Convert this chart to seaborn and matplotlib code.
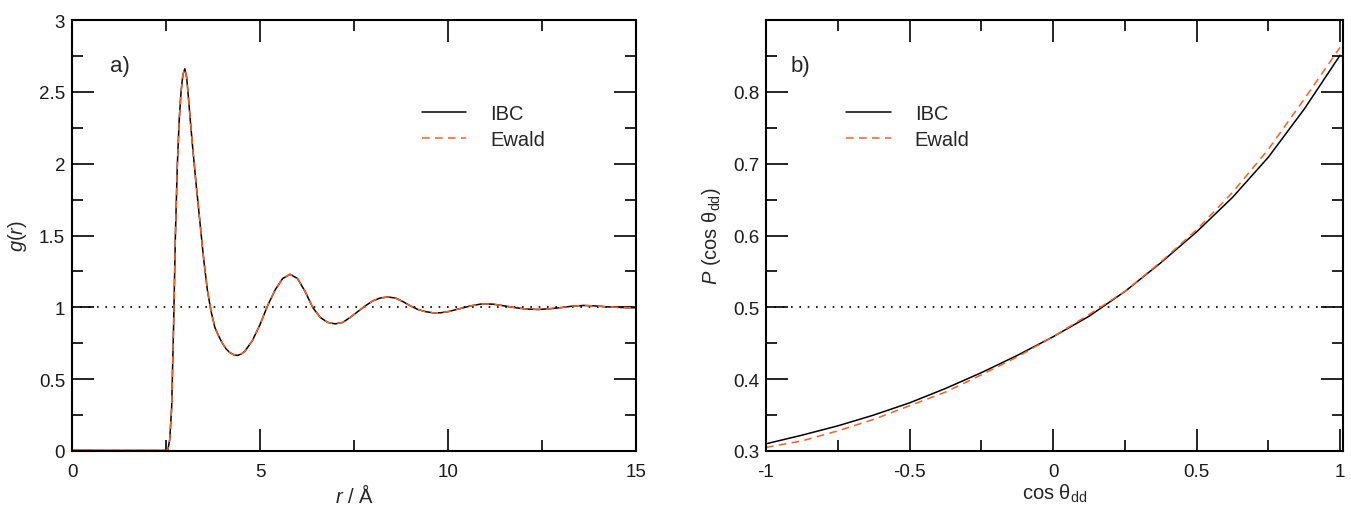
import numpy as np
import pandas as pd
import matplotlib
matplotlib.use('Agg')
import matplotlib.pyplot as plt
from matplotlib.ticker import MultipleLocator
import seaborn as sns

# panel a) radial distribution function g(r)
r_vals = [0.0, 1.0, 2.0, 2.5, 2.55, 2.6, 2.65, 2.7, 2.75, 2.8, 2.85, 2.9, 2.95,
          3.0, 3.05, 3.1, 3.15, 3.2, 3.3, 3.4, 3.5, 3.6, 3.7, 3.8, 3.9, 4.0,
          4.1, 4.2, 4.3, 4.4, 4.5, 4.6, 4.8, 5.0, 5.2, 5.4, 5.6, 5.8, 6.0,
          6.2, 6.4, 6.6, 6.8, 7.0, 7.2, 7.4, 7.6, 7.8, 8.0, 8.2, 8.4, 8.6,
          8.8, 9.0, 9.2, 9.4, 9.6, 9.8, 10.0, 10.3, 10.6, 10.9, 11.2, 11.5,
          11.8, 12.1, 12.4, 12.7, 13.0, 13.3, 13.6, 13.9, 14.2, 14.5, 14.8, 15.0]
g_ibc = [0.005, 0.004, 0.004, 0.004, 0.01, 0.08, 0.3, 0.85, 1.5, 1.98, 2.3, 2.5, 2.62,
         2.66, 2.6, 2.45, 2.29, 2.14, 1.86, 1.6, 1.34, 1.12, 0.97, 0.86, 0.8, 0.75,
         0.71, 0.685, 0.67, 0.665, 0.675, 0.695, 0.77, 0.88, 1.01, 1.12, 1.2, 1.23, 1.2,
         1.11, 1.0, 0.93, 0.895, 0.885, 0.895, 0.93, 0.97, 1.01, 1.045, 1.065, 1.072, 1.065,
         1.04, 1.01, 0.985, 0.97, 0.962, 0.962, 0.97, 0.99, 1.01, 1.024, 1.022, 1.01,
         0.997, 0.988, 0.985, 0.99, 0.998, 1.008, 1.013, 1.01, 1.004, 1.0, 0.997, 0.997]
g_ewald = list(g_ibc)  # curves overlap in the reference

# panel b) dipole orientation distribution P(cos theta_dd)
cos_vals = [-1.0, -0.875, -0.75, -0.625, -0.5, -0.375, -0.25, -0.125, 0.0,
            0.125, 0.25, 0.375, 0.5, 0.625, 0.75, 0.875, 1.0]
p_ibc = [0.310, 0.322, 0.335, 0.350, 0.367, 0.387, 0.409, 0.433, 0.459,
         0.4875, 0.522, 0.562, 0.605, 0.653, 0.709, 0.776, 0.851]
p_ewald = [0.305, 0.314, 0.328, 0.344, 0.363, 0.382, 0.406, 0.431, 0.459,
           0.490, 0.522, 0.563, 0.608, 0.660, 0.720, 0.790, 0.862]

sns.set_theme(style='ticks')
plt.rcParams['font.family'] = ['Liberation Sans', 'DejaVu Sans']
plt.rcParams['mathtext.fontset'] = 'custom'
plt.rcParams['mathtext.rm'] = 'Liberation Sans'
plt.rcParams['mathtext.it'] = 'Liberation Sans:italic'

orange = '#FF5F1F'
dash = (0, (5, 3.5))

fig = plt.figure(figsize=(13.51, 5.10), dpi=100)
ax1 = fig.add_axes([72 / 1351, 1 - 452 / 510, 564 / 1351, 431 / 510])
ax2 = fig.add_axes([766 / 1351, 1 - 452 / 510, 577 / 1351, 431 / 510])

df_g = pd.DataFrame({'r': r_vals, 'IBC': g_ibc, 'Ewald': g_ewald})
df_p = pd.DataFrame({'c': cos_vals, 'IBC': p_ibc, 'Ewald': p_ewald})

sns.lineplot(data=df_g, x='r', y='IBC', ax=ax1, color='black', lw=1.1,
             estimator=None, label='IBC')
sns.lineplot(data=df_g, x='r', y='Ewald', ax=ax1, color=orange, lw=1.1,
             linestyle=dash, estimator=None, label='Ewald')
sns.lineplot(data=df_p, x='c', y='IBC', ax=ax2, color='black', lw=1.1,
             estimator=None, label='IBC')
sns.lineplot(data=df_p, x='c', y='Ewald', ax=ax2, color=orange, lw=1.1,
             linestyle=dash, estimator=None, label='Ewald')

ax1.axhline(1.0, color='black', lw=1.2, linestyle=(0, (1, 4)), zorder=0)
ax2.axhline(0.5, color='black', lw=1.2, linestyle=(0, (1, 4)), zorder=0)

ax1.set_xlim(0, 15)
ax1.set_ylim(0, 3)
ax1.xaxis.set_minor_locator(MultipleLocator(2.5))
ax1.yaxis.set_minor_locator(MultipleLocator(0.25))
ax1.set_yticks([0, 0.5, 1, 1.5, 2, 2.5, 3])
ax1.set_yticklabels(['0', '0.5', '1', '1.5', '2', '2.5', '3'])
ax1.set_xticks([0, 5, 10, 15])
ax1.set_xticklabels(['0', '5', '10', '15'])

ax2.set_xlim(-1, 1.01)
ax2.set_ylim(0.3, 0.9)
ax2.xaxis.set_minor_locator(MultipleLocator(0.25))
ax2.yaxis.set_minor_locator(MultipleLocator(0.05))
ax2.set_xticks([-1, -0.5, 0, 0.5, 1])
ax2.set_xticklabels(['-1', '-0.5', '0', '0.5', '1'])
ax2.set_yticks([0.3, 0.4, 0.5, 0.6, 0.7, 0.8])
ax2.set_yticklabels(['0.3', '0.4', '0.5', '0.6', '0.7', '0.8'])

for ax in (ax1, ax2):
    for s in ax.spines.values():
        s.set_visible(True)
        s.set_linewidth(1.5)
        s.set_color('black')
    ax.tick_params(which='both', direction='in', top=True, right=True,
                   color='black', labelsize=13.5, labelcolor='#1a1a1a')
    ax.tick_params(which='major', length=16, width=1.2, pad=5)
    ax.tick_params(which='minor', length=8, width=1.2)
    ax.tick_params(axis='x', which='major', pad=9)
    ax.grid(False)

# x labels kept just inside the bottom edge
ax1.set_xlabel(r'$r$ / Å', fontsize=14.5, labelpad=2)
ax1.set_ylabel(r'$g$($r$)', fontsize=14.5, labelpad=7)
ax2.set_xlabel(r'cos θ$_{\mathrm{dd}}$', fontsize=14.5, labelpad=1)
ax2.set_ylabel(r'$P$ (cos θ$_{\mathrm{dd}}$)', fontsize=14.5, labelpad=7)

ax1.text(0.068, 0.895, 'a)', transform=ax1.transAxes, fontsize=16,
         va='center', ha='left')
ax2.text(0.043, 0.895, 'b)', transform=ax2.transAxes, fontsize=16,
         va='center', ha='left')

ax1.legend(loc='upper left', bbox_to_anchor=(0.62, 0.805), frameon=False,
           fontsize=14.5, handlelength=2.2, handletextpad=1.2, borderpad=0,
           borderaxespad=0, labelspacing=0.35)
ax2.legend(loc='upper left', bbox_to_anchor=(0.139, 0.805), frameon=False,
           fontsize=14.5, handlelength=2.2, handletextpad=1.2, borderpad=0,
           borderaxespad=0, labelspacing=0.35)

fig.savefig('out.png', dpi=100)
